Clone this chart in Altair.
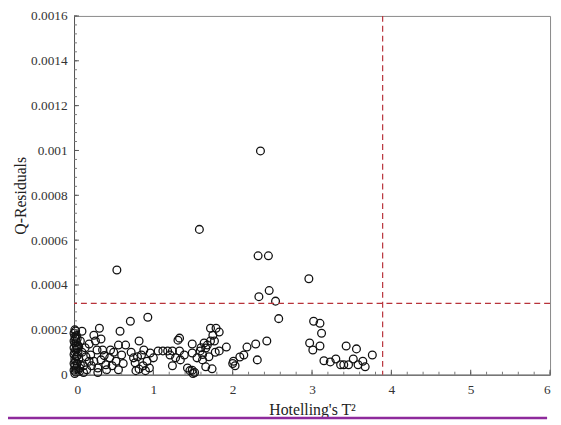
import altair as alt
import pandas as pd

# Data
t2 = [
    2.35, 1.58, 0.54, 2.32, 2.45, 2.33, 2.46, 2.54, 2.58, 2.96,
    3.02, 3.10, 3.12, 2.97, 3.01, 3.10, 3.15, 3.23, 3.30, 3.36, 3.40, 3.43, 3.46, 3.52, 3.56, 3.58, 3.64, 3.67, 3.76,
    2.43, 2.29, 2.18, 2.31, 2.14, 2.09, 2.01, 2.03, 2.00,
    1.92, 1.83, 1.78, 1.72, 1.79, 1.83, 1.75, 1.64, 1.68, 1.66, 1.77, 1.72, 1.59, 1.55, 1.62, 1.49, 1.49, 1.66, 1.74,
    1.43, 1.49, 1.52, 1.46, 1.50, 1.33, 1.33, 1.34, 1.39, 1.62, 1.70, 1.60,
    0.71, 0.93, 0.82, 0.75, 0.77, 0.78, 0.85, 0.87, 0.90, 0.96, 1.00, 1.06, 1.18, 1.24, 1.28, 1.31, 1.21, 1.12, 1.24,
    0.80, 0.92, 0.88, 0.72, 0.95, 0.82,
    0.10, 0.32, 0.58, 0.25, 0.34, 0.19, 0.27, 0.56, 0.65, 0.46, 0.36, 0.29, 0.21, 0.60, 0.34, 0.40, 0.41, 0.56, 0.53,
    0.16, 0.12, 0.19, 0.08, 0.14, 0.22, 0.30, 0.45, 0.50, 0.38, 0.25, 0.15, 0.10, 0.30, 0.48, 0.62, 0.12,
    0.01, 0.02, 0.00, 0.01, 0.02, 0.00, 0.01, 0.03, 0.00, 0.02, 0.01, 0.00, 0.03, 0.01, 0.02, 0.00, 0.01, 0.03,
    0.00, 0.02, 0.01, 0.04, 0.05, 0.04, 0.05, 0.06,
    0.03, 0.04, 0.02, 0.05, 0.03, 0.07, 0.06, 0.04, 0.08, 0.07,
]
q_res = [
    0.000998, 0.000648, 0.000467, 0.000530, 0.000530, 0.000348, 0.000375, 0.000328, 0.000250, 0.000428,
    0.000238, 0.000229, 0.000185, 0.000141, 0.000110, 0.000128, 0.000062, 0.000057, 0.000070, 0.000044, 0.000044,
    0.000128, 0.000044, 0.000070, 0.000115, 0.000044, 0.000060, 0.000035, 0.000088,
    0.000150, 0.000137, 0.000123, 0.000066, 0.000088, 0.000079, 0.000060, 0.000040, 0.000050,
    0.000123, 0.000106, 0.000100, 0.000207, 0.000207, 0.000190, 0.000176, 0.000141, 0.000132, 0.000119, 0.000150,
    0.000150, 0.000106, 0.000075, 0.000066, 0.000137, 0.000097, 0.000035, 0.000026,
    0.000030, 0.000020, 0.000010, 0.000018, 0.000005, 0.000163, 0.000106, 0.000066, 0.000088, 0.000090, 0.000080, 0.000120,
    0.000238, 0.000256, 0.000150, 0.000075, 0.000053, 0.000018, 0.000088, 0.000040, 0.000018, 0.000097, 0.000075,
    0.000106, 0.000106, 0.000106, 0.000075, 0.000154, 0.000088, 0.000106, 0.000040,
    0.000080, 0.000060, 0.000110, 0.000100, 0.000030, 0.000025,
    0.000194, 0.000207, 0.000194, 0.000176, 0.000159, 0.000137, 0.000150, 0.000132, 0.000132, 0.000110, 0.000110,
    0.000110, 0.000088, 0.000088, 0.000066, 0.000044, 0.000022, 0.000022, 0.000060,
    0.000022, 0.000040, 0.000060, 0.000150, 0.000120, 0.000040, 0.000030, 0.000075, 0.000100, 0.000085, 0.000060,
    0.000080, 0.000100, 0.000010, 0.000040, 0.000050, 0.000010,
    0.000200, 0.000195, 0.000185, 0.000170, 0.000160, 0.000150, 0.000140, 0.000130, 0.000120, 0.000110, 0.000100,
    0.000090, 0.000080, 0.000070, 0.000060, 0.000050, 0.000040, 0.000030, 0.000020, 0.000012, 0.000005,
    0.000050, 0.000100, 0.000160, 0.000020, 0.000070,
    0.000145, 0.000115, 0.000025, 0.000130, 0.000175, 0.000030, 0.000125, 0.000085, 0.000045, 0.000015,
]
t2_limit = [3.89]
q_limit = [0.000318]

x_major = [0, 1, 2, 3, 4, 5, 6]
x_minor = [round(i * 0.2, 2) for i in range(31)]
y_major = [0, 0.0002, 0.0004, 0.0006, 0.0008, 0.001, 0.0012, 0.0014, 0.0016]
y_minor = [round(i * 0.00004, 6) for i in range(41)]

W, H = 483, 364
FONT = "Liberation Serif"

df = pd.DataFrame({"t2": t2, "q": q_res})
xs = alt.Scale(domain=[0, 6], nice=False)
ys = alt.Scale(domain=[0, 0.0016], nice=False)

points = alt.Chart(df).mark_point(
    shape="circle", filled=False, color="#111", size=62, strokeWidth=1.3, opacity=1
).encode(
    x=alt.X("t2:Q", scale=xs,
            axis=alt.Axis(title="Hotelling's T\u00b2", values=x_major, format="d",
                          ticks=False, labelPadding=8, titlePadding=6,
                          domainColor="#555", labelColor="#333", titleColor="#222",
                          labelFont=FONT, titleFont=FONT, labelFontSize=13.5, titleFontSize=16,
                          titleFontWeight="normal", grid=False)),
    y=alt.Y("q:Q", scale=ys,
            axis=alt.Axis(title="Q-Residuals", values=y_major, format="~g",
                          ticks=False, labelPadding=7, titlePadding=2,
                          domainColor="#555", labelColor="#333", titleColor="#222",
                          labelFont=FONT, titleFont=FONT, labelFontSize=13.5, titleFontSize=16,
                          titleFontWeight="normal", grid=False)),
)

xmaj = alt.Chart(pd.DataFrame({"v": x_major})).mark_rule(color="#555", strokeWidth=1).encode(
    x=alt.X("v:Q", scale=xs), y=alt.value(H), y2=alt.value(H - 5))
xmin = alt.Chart(pd.DataFrame({"v": x_minor})).mark_rule(color="#777", strokeWidth=1).encode(
    x=alt.X("v:Q", scale=xs), y=alt.value(H), y2=alt.value(H - 3))
ymaj = alt.Chart(pd.DataFrame({"v": y_major})).mark_rule(color="#555", strokeWidth=1).encode(
    y=alt.Y("v:Q", scale=ys), x=alt.value(0), x2=alt.value(5))
ymin = alt.Chart(pd.DataFrame({"v": y_minor})).mark_rule(color="#777", strokeWidth=1).encode(
    y=alt.Y("v:Q", scale=ys), x=alt.value(0), x2=alt.value(3))

vline = alt.Chart(pd.DataFrame({"v": t2_limit})).mark_rule(
    color="#b8323a", strokeWidth=1.2, strokeDash=[6, 4]).encode(x=alt.X("v:Q", scale=xs))
hline = alt.Chart(pd.DataFrame({"v": q_limit})).mark_rule(
    color="#b8323a", strokeWidth=1.2, strokeDash=[6, 4]).encode(y=alt.Y("v:Q", scale=ys))

purple = alt.Chart(pd.DataFrame({"a": [0]})).mark_rule(color="#8e2a9c", strokeWidth=2.5).encode(
    x=alt.value(-72), x2=alt.value(480), y=alt.value(H + 44))

chart = alt.layer(points, xmin, xmaj, ymin, ymaj, vline, hline, purple).properties(
    width=W, height=H,
    autosize=alt.AutoSizeParams(type="none"),
    padding={"left": 67, "top": 5, "right": 3, "bottom": 48},
    background="white",
).configure_view(stroke="#888", strokeWidth=1)

chart.save("out.html", embed_options={"renderer": "svg", "actions": False})
